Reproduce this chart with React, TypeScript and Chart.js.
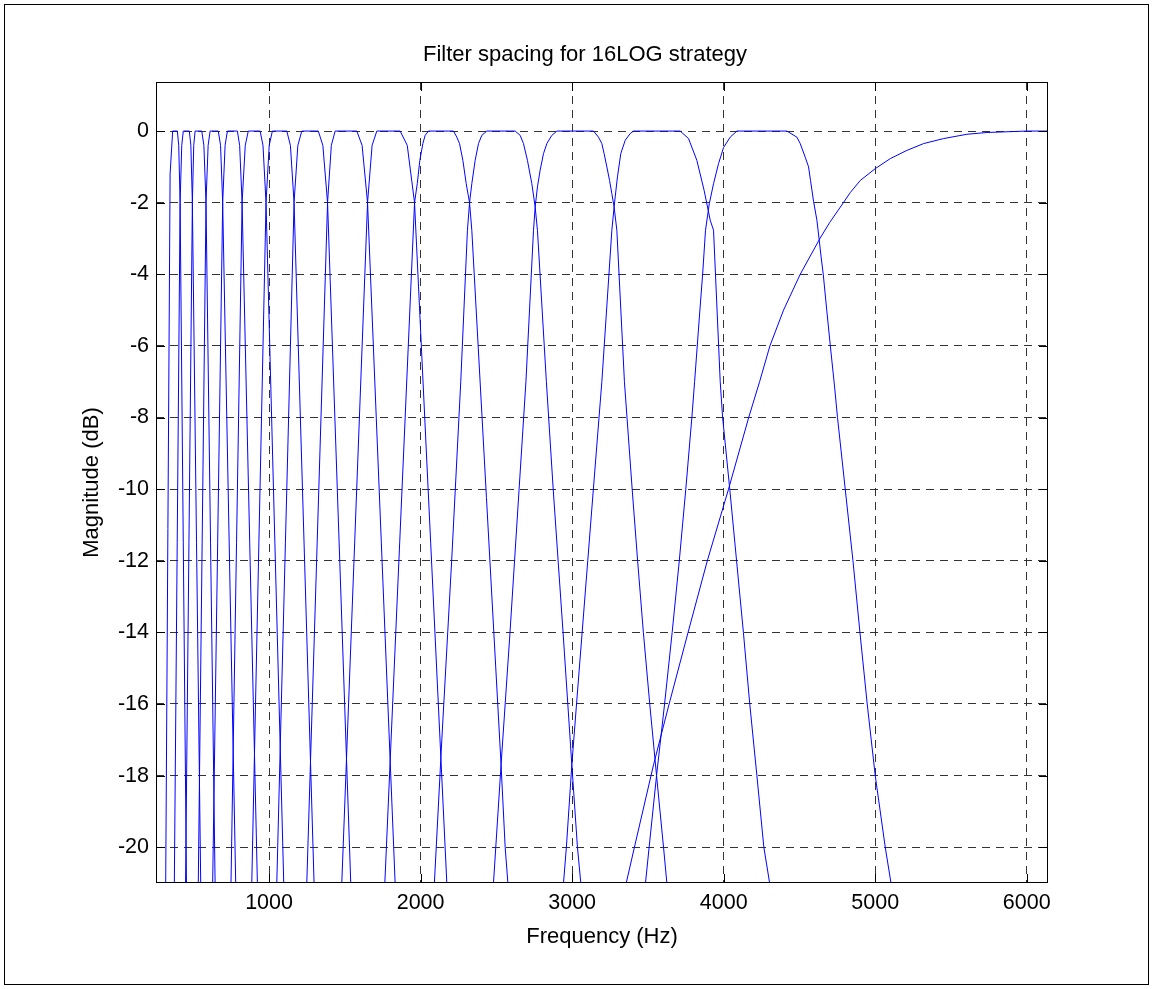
import React, { useEffect, useRef } from "react";
import { Chart, registerables } from "chart.js";

Chart.register(...registerables);

// ---- text ----
const TITLE = "Filter spacing for 16LOG strategy";
const X_LABEL = "Frequency (Hz)";
const Y_LABEL = "Magnitude (dB)";

// ---- axes ----
const X_MIN = 254;
const X_MAX = 6140;
const Y_MIN = -21;
const Y_MAX = 1.37;
const X_TICKS = [1000, 2000, 3000, 4000, 5000, 6000];
const Y_TICKS = [-20, -18, -16, -14, -12, -10, -8, -6, -4, -2, 0];

// ---- filter responses: [frequency Hz, magnitude dB] ----
const FILTER_01 = [[318, -21], [347, -1.2], [364, 0], [395, 0], [404, -0.4], [413, -2], [455, -21]];
const FILTER_02 = [[375, -21], [413, -2], [424, -0.4], [434, 0], [474, 0], [484, -0.4], [494, -2], [549, -21]];
const FILTER_03 = [[449, -21], [494, -2], [503, -0.4], [512, 0], [556, 0], [570, -0.4], [584, -2], [644, -21]];
const FILTER_04 = [[533, -21], [584, -2], [598, -0.4], [611, 0], [665, 0], [680, -0.4], [694, -2], [780, -21]];
const FILTER_05 = [[628, -21], [694, -2], [710, -0.4], [725, 0], [791, 0], [806, -0.4], [822, -2], [923, -21]];
const FILTER_06 = [[749, -21], [822, -2], [843, -0.4], [863, 0], [941, 0], [960, -0.4], [980, -2], [1097, -21]];
const FILTER_07 = [[886, -21], [980, -2], [1001, -0.4], [1022, 0], [1117, 0], [1141, -0.4], [1165, -2], [1297, -21]];
const FILTER_08 = [[1051, -21], [1165, -2], [1190, -0.4], [1216, 0], [1325, 0], [1355, -0.4], [1386, -2], [1539, -21]];
const FILTER_09 = [[1249, -21], [1386, -2], [1411, -0.4], [1436, 0], [1579, 0], [1614, -0.4], [1650, -2], [1832, -21]];
const FILTER_10 = [[1480, -21], [1650, -2], [1680, -0.4], [1711, 0], [1865, 0], [1912, -0.4], [1960, -2], [2173, -21]];
const FILTER_11 = [
  [1764, -21], [1960, -2], [1978, -1.47], [1995, -0.82], [2015, -0.35], [2030, -0.12], [2052, 0],
  [2217, 0], [2239, -0.17], [2257, -0.35], [2279, -0.82], [2301, -1.47], [2323, -2], [2338, -2.77],
  [2531, -17.7], [2558, -20], [2576, -21],
];
const FILTER_12 = [
  [2091, -21], [2140, -17], [2205, -12], [2265, -7], [2309, -2.77], [2323, -2], [2338, -1.47],
  [2360, -0.82], [2382, -0.35], [2404, -0.12], [2437, 0], [2624, 0], [2657, -0.12], [2679, -0.35],
  [2705, -0.82], [2734, -1.47], [2756, -2.12], [2771, -2.77], [2830, -7], [2875, -10], [2940, -14],
  [2998, -17.7], [3035, -20], [3057, -21],
];
const FILTER_13 = [
  [2481, -21], [2496, -20], [2531, -17.7], [2590, -14], [2650, -10], [2695, -7], [2745, -2.77],
  [2756, -2.12], [2771, -1.56], [2789, -1.09], [2811, -0.63], [2833, -0.35], [2866, -0.12], [2899, 0],
  [3141, 0], [3174, -0.17], [3196, -0.35], [3211, -0.63], [3229, -1.0], [3247, -1.38], [3262, -1.75],
  [3277, -2.12], [3295, -2.77], [3345, -7], [3362, -8], [3396, -10], [3432, -12], [3470, -14],
  [3512, -16], [3557, -18], [3603, -20], [3625, -21],
];
const FILTER_14 = [
  [2943, -21], [2962, -20], [2998, -17.7], [3029, -16], [3066, -14], [3103, -12], [3140, -10],
  [3196, -7], [3262, -2.77], [3277, -2.12], [3284, -1.84], [3299, -1.28], [3321, -0.63], [3350, -0.26],
  [3383, -0.07], [3405, 0], [3713, 0], [3768, -0.21], [3823, -0.82], [3871, -1.66], [3911, -2.49],
  [3933, -2.77], [3977, -7], [3993, -8], [4040, -10], [4085, -12], [4130, -14], [4172, -16],
  [4219, -18], [4265, -20], [4303, -21],
];
const FILTER_15 = [
  [3484, -21], [3508, -20], [3557, -18], [3610, -16], [3660, -14], [3707, -12], [3750, -10],
  [3790, -8], [3808, -7], [3843, -5], [3861, -4], [3880, -2.77], [3905, -2.03], [3933, -1.47],
  [3966, -0.91], [3999, -0.46], [4043, -0.17], [4087, 0], [4417, 0], [4483, -0.17], [4505, -0.35],
  [4538, -0.73], [4560, -1.0], [4573, -1.38], [4593, -1.96], [4615, -2.49], [4628, -2.96],
  [4643, -3.52], [4657, -4.0], [4680, -5.0], [4703, -5.97], [4732, -7.15], [4751, -8], [4802, -10],
  [4853, -12], [4899, -14], [4947, -16], [5000, -18], [5066, -20], [5104, -21],
];
const FILTER_16_HIGHPASS = [
  [3357, -21], [3411, -20], [3537, -17.7], [3640, -16], [3765, -14], [3892, -12], [4032, -10],
  [4165, -8], [4237, -7], [4305, -6], [4395, -5], [4505, -4], [4635, -3], [4700, -2.55],
  [4790, -2.0], [4835, -1.72], [4901, -1.38], [5000, -1.05], [5099, -0.77], [5209, -0.54],
  [5319, -0.35], [5451, -0.21], [5605, -0.09], [5737, -0.04], [6001, 0], [6140, 0],
];

const FILTERS = [
  FILTER_01, FILTER_02, FILTER_03, FILTER_04, FILTER_05, FILTER_06, FILTER_07, FILTER_08,
  FILTER_09, FILTER_10, FILTER_11, FILTER_12, FILTER_13, FILTER_14, FILTER_15, FILTER_16_HIGHPASS,
];

const FONT = "'Liberation Sans', Arial, Helvetica, sans-serif";

const matlabFrame = {
  id: "matlabFrame",
  afterDraw(chart: any) {
    const { ctx, chartArea } = chart;
    const { left, top, right, bottom } = chartArea;
    const xs = chart.scales.x;
    const ys = chart.scales.y;
    ctx.save();
    ctx.strokeStyle = "#000";
    ctx.lineWidth = 1;
    // figure frame
    ctx.strokeRect(4.5, 4.5, 1144, 980);
    // axes box
    ctx.strokeRect(Math.round(left) + 0.5, Math.round(top) + 0.5, Math.round(right - left) - 1, Math.round(bottom - top) - 1);
    // inward tick marks on all four sides
    const TL = 9;
    ctx.beginPath();
    X_TICKS.forEach((v) => {
      const px = Math.round(xs.getPixelForValue(v)) + 0.5;
      ctx.moveTo(px, bottom);
      ctx.lineTo(px, bottom - TL);
      ctx.moveTo(px, top);
      ctx.lineTo(px, top + TL);
    });
    Y_TICKS.forEach((v) => {
      const py = Math.round(ys.getPixelForValue(v)) + 0.5;
      ctx.moveTo(left, py);
      ctx.lineTo(left + TL, py);
      ctx.moveTo(right, py);
      ctx.lineTo(right - TL, py);
    });
    ctx.stroke();
    // title
    ctx.fillStyle = "#000";
    ctx.font = `22px ${FONT}`;
    ctx.textAlign = "center";
    ctx.textBaseline = "middle";
    ctx.fillText(TITLE, 585, 55);
    ctx.restore();
  },
};

export default function App() {
  const canvasRef = useRef<HTMLCanvasElement | null>(null);

  useEffect(() => {
    const canvas = canvasRef.current;
    if (!canvas) return;
    const chart = new Chart(canvas, {
      type: "line",
      data: {
        datasets: FILTERS.map((f, i) => ({
          label: `Filter ${i + 1}`,
          data: f.map(([x, y]) => ({ x, y })),
          borderColor: "#0000ff",
          backgroundColor: "#0000ff",
          borderWidth: 1,
          pointRadius: 0,
          fill: false,
          tension: 0,
        })),
      },
      options: {
        animation: false,
        responsive: false,
        devicePixelRatio: 1,
        events: [],
        layout: { padding: { top: 82, right: 105, bottom: 0, left: 0 } },
        plugins: {
          legend: { display: false },
          tooltip: { enabled: false },
          title: { display: false },
        },
        scales: {
          x: {
            type: "linear",
            min: X_MIN,
            max: X_MAX,
            afterBuildTicks: (s: any) => {
              s.ticks = X_TICKS.map((value) => ({ value }));
            },
            afterFit: (s: any) => {
              s.height = 106;
            },
            ticks: {
              color: "#000",
              font: { family: FONT, size: 21.5 },
              padding: 7,
              maxRotation: 0,
              autoSkip: false,
              callback: (v: any) => String(v),
            },
            grid: { color: "#333", lineWidth: 1, drawTicks: false },
            border: { display: false, dash: [8, 6] },
            title: {
              display: true,
              text: X_LABEL,
              color: "#000",
              font: { family: FONT, size: 22 },
              padding: { top: 0, bottom: 39 },
            },
          },
          y: {
            type: "linear",
            min: Y_MIN,
            max: Y_MAX,
            afterBuildTicks: (s: any) => {
              s.ticks = Y_TICKS.map((value) => ({ value }));
            },
            afterFit: (s: any) => {
              s.width = 156;
            },
            ticks: {
              color: "#000",
              font: { family: FONT, size: 21.5 },
              padding: 7,
              autoSkip: false,
              callback: (v: any) => String(v),
            },
            grid: { color: "#333", lineWidth: 1, drawTicks: false },
            border: { display: false, dash: [8, 6] },
            title: {
              display: true,
              text: Y_LABEL,
              color: "#000",
              font: { family: FONT, size: 22 },
              padding: { top: 79, bottom: 0 },
            },
          },
        },
      },
      plugins: [matlabFrame],
    });
    return () => chart.destroy();
  }, []);

  return (
    <div style={{ position: "fixed", left: 0, top: 0, width: 1153, height: 989, background: "#fff" }}>
      <canvas ref={canvasRef} width={1153} height={989} style={{ display: "block", width: 1153, height: 989 }} />
    </div>
  );
}
